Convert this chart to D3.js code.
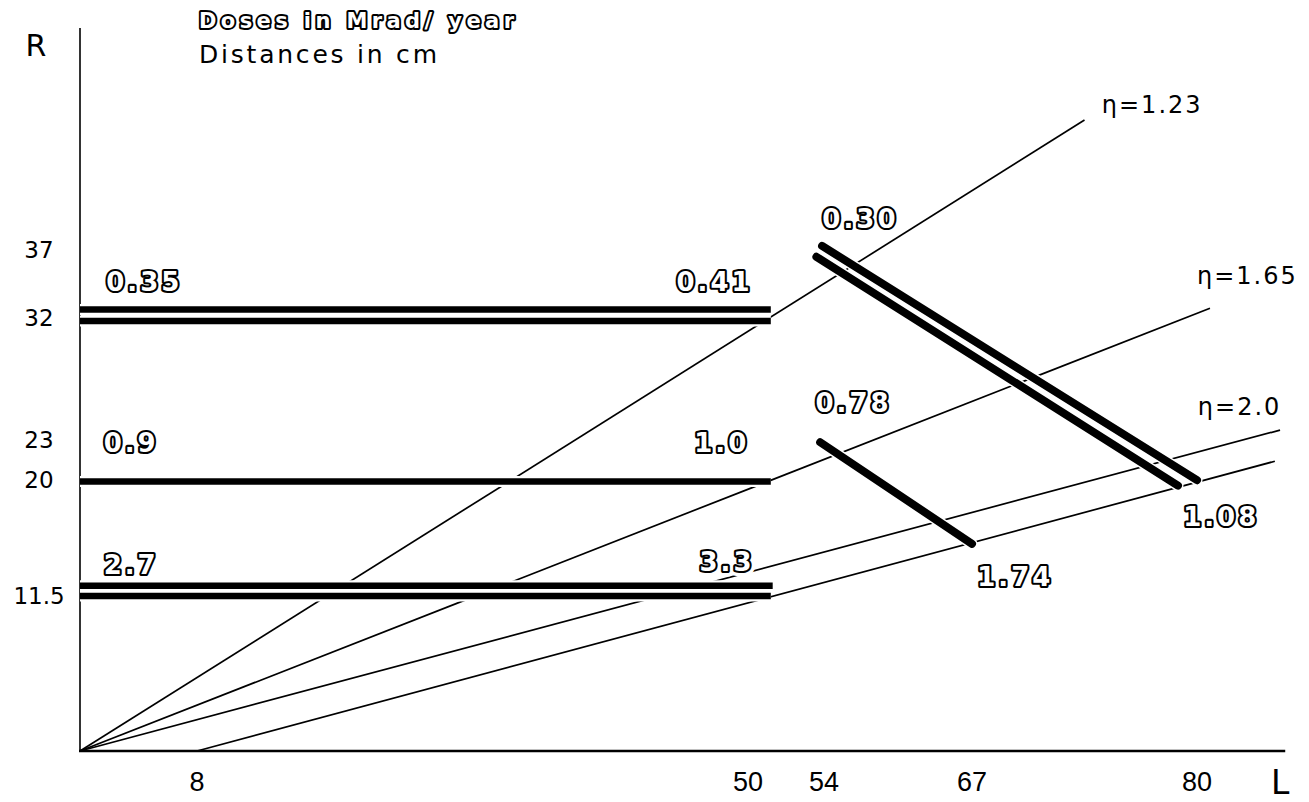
<!DOCTYPE html>
<meta charset="utf-8">
<title>Doses in Mrad/year</title>
<style>
body { margin: 0; background: #fff; }
svg { display: block; }
text { font-family: "DejaVu Sans", sans-serif; fill: #000; }
.dose { font-weight: bold; font-size: 26px; letter-spacing: 3px; }
.dose.halo { fill: #fff; stroke: #fff; stroke-width: 11px; stroke-linejoin: round; }
.dose.ink { fill: #fff; stroke: #000; stroke-width: 4.2px; stroke-linejoin: round; paint-order: stroke; }
</style>
<body>
<script src="https://cdn.jsdelivr.net/npm/d3@7"></script>
<script>

var width = 1309,
    height = 802;

// axis labels, cm
var lTicks = [8, 50, 54, 67, 80];
var rTicks = [37, 32, 23, 20, 11.5];

// eta lines [L0, R0, L1, R1] in cm (last one starts from the displaced vertex)
var etaNames = ["1.23", "1.65", "2.0"];
var etaLines = [
  [0, 0, 73.5, 46.6],
  [0, 0, 80.75, 32.7],
  [0, 0, 84.8, 23.7],
  [8, 0, 84.5, 21.4]
];
var etaLabelAt = [[74.5, 47.1], [80, 34.5], [80.05, 24.8]];

// thick layers [L0, R0, L1, R1]; double layers are two strips
var barrel = [
  [0, 32.6, 51.2, 32.6],
  [0, 31.75, 51.2, 31.75],
  [0, 19.9, 51.2, 19.9],
  [0, 12.2, 51.3, 12.2],
  [0, 11.45, 51.2, 11.45]
];
var disks = [
  [53.9, 37.3, 80, 20.0],
  [53.6, 36.5, 78.9, 19.6],
  [53.8, 22.8, 67, 15.3]
];

// doses in Mrad/year and where they are written (cm)
var doses = ["0.35", "0.41", "0.9", "1.0", "2.7", "3.3", "0.30", "0.78", "1.08", "1.74"];
var doseL = [4.4, 47.45, 3.5, 48.0, 3.5, 48.4, 57.2, 56.6, 81.4, 69.5];
var doseR = [34.0, 34.0, 22.1, 22.1, 13.1, 13.3, 38.6, 25.0, 16.6, 12.2];

// the drawing is not to scale along L, so the scale is piecewise
var x = d3.scaleLinear()
    .domain([0, 8, 50, 54, 67, 80, 90])
    .range([80, 197, 748, 824, 972, 1197, 1370]);

var y = d3.scaleLinear()
    .domain([0, 37])
    .range([751, 250]);

var svg = d3.select("body").append("svg")
    .attr("width", width)
    .attr("height", height);

// axes
svg.append("line")
    .attr("x1", x(0)).attr("y1", y(0))
    .attr("x2", x(0)).attr("y2", y(53.4))
    .attr("stroke", "#000").attr("stroke-width", 1.6);

svg.append("line")
    .attr("x1", x(0) - 1).attr("y1", y(0))
    .attr("x2", x(85.1)).attr("y2", y(0))
    .attr("stroke", "#000").attr("stroke-width", 2.6);

// eta lines
svg.selectAll(".eta")
    .data(etaLines)
  .enter().append("line")
    .attr("class", "eta")
    .attr("x1", function(d) { return x(d[0]); })
    .attr("y1", function(d) { return y(d[1]); })
    .attr("x2", function(d) { return x(d[2]); })
    .attr("y2", function(d) { return y(d[3]); })
    .attr("stroke", "#000")
    .attr("stroke-width", 1.7);

var layers = barrel.map(function(d) { return {p: d, cap: "butt"}; })
    .concat(disks.map(function(d) { return {p: d, cap: "round"}; }));

// white edge so thin lines break where they cross a layer
svg.selectAll(".layerHalo")
    .data(layers)
  .enter().append("line")
    .attr("class", "layerHalo")
    .attr("x1", function(d) { return x(d.p[0]); })
    .attr("y1", function(d) { return y(d.p[1]); })
    .attr("x2", function(d) { return x(d.p[2]); })
    .attr("y2", function(d) { return y(d.p[3]); })
    .attr("stroke", "#fff")
    .attr("stroke-width", 11)
    .attr("stroke-linecap", function(d) { return d.cap; });

svg.selectAll(".layer")
    .data(layers)
  .enter().append("line")
    .attr("class", "layer")
    .attr("x1", function(d) { return x(d.p[0]); })
    .attr("y1", function(d) { return y(d.p[1]); })
    .attr("x2", function(d) { return x(d.p[2]); })
    .attr("y2", function(d) { return y(d.p[3]); })
    .attr("stroke", "#000")
    .attr("stroke-width", function(d) { return d.cap == "round" ? 8 : 6.5; })
    .attr("stroke-linecap", function(d) { return d.cap; });

// dose labels, outlined
["halo", "ink"].forEach(function(k) {
  svg.selectAll(".dose." + k)
      .data(doses)
    .enter().append("text")
      .attr("class", "dose " + k)
      .attr("x", function(d, i) { return x(doseL[i]); })
      .attr("y", function(d, i) { return y(doseR[i]); })
      .attr("text-anchor", "middle")
      .text(function(d) { return d; });
});

// eta labels
svg.selectAll(".etaLabel")
    .data(etaNames)
  .enter().append("text")
    .attr("class", "etaLabel")
    .attr("x", function(d, i) { return x(etaLabelAt[i][0]); })
    .attr("y", function(d, i) { return y(etaLabelAt[i][1]); })
    .style("font-size", "24px")
    .style("letter-spacing", "2px")
    .text(function(d) { return "\u03b7=" + d; });

// tick labels
svg.selectAll(".lTick")
    .data(lTicks)
  .enter().append("text")
    .attr("class", "lTick")
    .attr("x", function(d) { return x(d); })
    .attr("y", 791)
    .attr("text-anchor", "middle")
    .style("font-family", "'Liberation Sans', sans-serif")
    .style("font-size", "27px")
    .text(function(d) { return d; });

svg.selectAll(".rTick")
    .data(rTicks)
  .enter().append("text")
    .attr("class", "rTick")
    .attr("x", 39)
    .attr("y", function(d) { return y(d); })
    .attr("dy", "0.36em")
    .attr("text-anchor", "middle")
    .style("font-size", "23px")
    .text(function(d) { return d; });

// axis names
svg.append("text")
    .attr("x", 36).attr("y", 56)
    .attr("text-anchor", "middle")
    .style("font-size", "30px")
    .text("R");

svg.append("text")
    .attr("x", 1271).attr("y", 794)
    .style("font-size", "33px")
    .text("L");

// headings
svg.append("text")
    .attr("class", "dose ink")
    .attr("x", 199).attr("y", 28)
    .attr("textLength", 318)
    .attr("lengthAdjust", "spacing")
    .style("font-size", "21px")
    .style("stroke-width", "4px")
    .text("Doses in Mrad/ year");

svg.append("text")
    .attr("x", 199).attr("y", 63)
    .attr("textLength", 238)
    .attr("lengthAdjust", "spacing")
    .style("font-size", "25px")
    .text("Distances in cm");

</script>
